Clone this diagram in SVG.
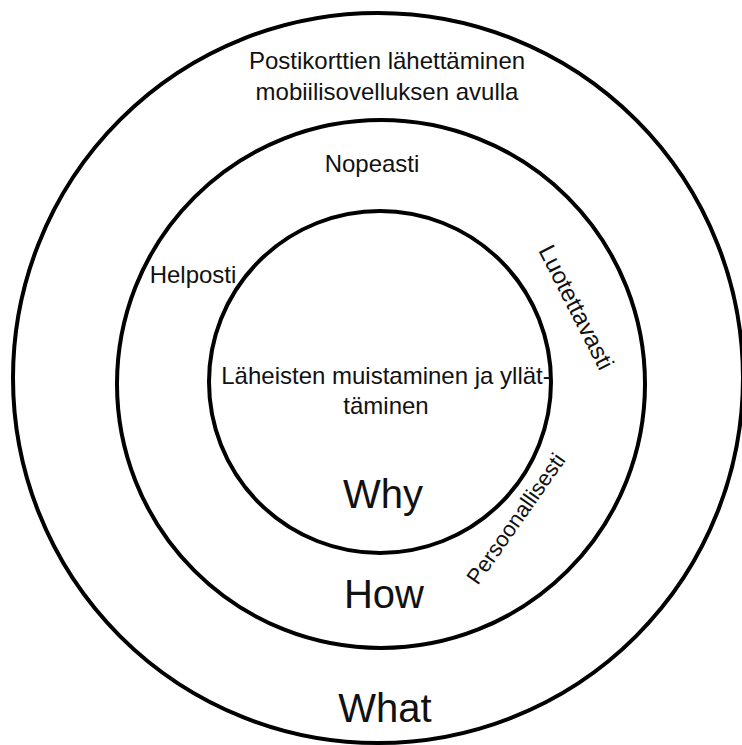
<svg xmlns="http://www.w3.org/2000/svg" width="742" height="745" viewBox="0 0 742 745">
<style>
.ring{fill:none;stroke:#000;stroke-width:4}
.t{font-family:"Liberation Sans",Arial,sans-serif;font-size:24px;fill:#111;text-anchor:middle}
.big{font-size:40px}
</style>
<rect width="742" height="745" fill="#fff"/>
<g id="connectors"></g>
<g id="what">
<circle class="ring" cx="378" cy="378" r="365"/>
<text class="t" x="387" y="69">Postikorttien lähettäminen</text>
<text class="t" x="387" y="100">mobiilisovelluksen avulla</text>
<text class="t big" x="385" y="722">What</text>
</g>
<g id="how">
<circle class="ring" cx="381" cy="384" r="264"/>
<text class="t" x="372" y="172">Nopeasti</text>
<text class="t" x="193" y="283">Helposti</text>
<text class="t" transform="translate(569,311) rotate(63)" x="0" y="0">Luotettavasti</text>
<text class="t" style="font-size:22px" transform="translate(522,523) rotate(-55)" x="0" y="0">Persoonallisesti</text>
<text class="t big" x="384" y="608">How</text>
</g>
<g id="why">
<circle class="ring" cx="380" cy="382" r="171"/>
<text class="t" x="386" y="384">Läheisten muistaminen ja yllät-</text>
<text class="t" x="386" y="414">täminen</text>
<text class="t big" x="383" y="508">Why</text>
</g>
</svg>
